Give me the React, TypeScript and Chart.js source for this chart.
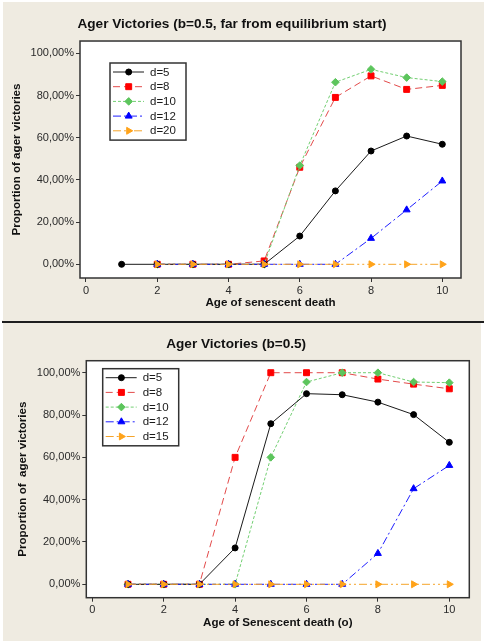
import React, { useEffect, useRef } from 'react';
import { Chart, registerables } from 'chart.js';
import { drawPoint } from 'chart.js/helpers';

Chart.register(...registerables);

// ---------- data ----------
const ageValues = [1, 2, 3, 4, 5, 6, 7, 8, 9, 10];
const xTickValues = [0, 2, 4, 6, 8, 10];
const yTickValues = [0, 20, 40, 60, 80, 100];

const topTitle = 'Ager Victories (b=0.5, far from equilibrium start)';
const topXTitle = 'Age of senescent death';
const topYTitle = 'Proportion of ager victories';
const topLabels = ['d=5', 'd=8', 'd=10', 'd=12', 'd=20'];
const topD5 = [0, 0, 0, 0, 0, 13.4, 34.8, 53.7, 60.8, 56.9];
const topD8 = [null, 0, 0, 0, 1.6, 46.0, 79.1, 89.3, 82.9, 84.8];
const topD10 = [null, 0, 0, 0, 0, 46.8, 86.3, 92.4, 88.5, 86.6];
const topD12 = [null, 0, 0, 0, 0, 0, 0, 12.3, 25.8, 39.5];
const topD20 = [null, 0, 0, 0, 0, 0, 0, 0, 0, 0];

const botTitle = 'Ager Victories (b=0.5)';
const botXTitle = 'Age of Senescent death (o)';
const botYTitle = 'Proportion of  ager victories';
const botLabels = ['d=5', 'd=8', 'd=10', 'd=12', 'd=15'];
const botD5 = [0, 0, 0, 17.2, 75.9, 90.1, 89.6, 86.1, 80.2, 67.1];
const botD8 = [0, 0, 0, 60, 100, 100, 100, 97.0, 94.6, 92.4];
const botD10 = [0, 0, 0, 0, 60, 95.6, 100, 100, 95.6, 95.3];
const botD12 = [0, 0, 0, 0, 0, 0, 0, 14.6, 45.2, 56.2];
const botD15 = [0, 0, 0, 0, 0, 0, 0, 0, 0, 0];

// ---------- styles ----------
const FONT = "'Liberation Sans', Arial, sans-serif";
const BEIGE = '#efebe1';

const seriesStyles = [
  { line: '#1a1a1a', point: '#000000', dash: [], pointStyle: 'circle', radius: 3, rotation: 0, order: 2 },
  { line: '#e34a4a', point: '#ff0000', dash: [7, 4], pointStyle: 'rect', radius: 4.2, rotation: 0, order: 4 },
  { line: '#72cf72', point: '#5cc55c', dash: [3, 2], pointStyle: 'rectRot', radius: 3.8, rotation: 0, order: 3 },
  { line: '#1f1fff', point: '#0000ff', dash: [8, 3, 2, 3], pointStyle: 'triangle', radius: 4, rotation: 0, order: 1 },
  { line: '#f5a42a', point: '#ffa31a', dash: [8, 3, 2, 3, 2, 3], pointStyle: 'triangle', radius: 4, rotation: 90, order: 0 },
];

type PanelCfg = {
  title: string;
  xTitle: string;
  yTitle: string;
  labels: string[];
  series: (number | null)[][];
  W: number;
  H: number;
  area: { left: number; right: number; top: number; bottom: number };
  xRange: [number, number];
  yRange: [number, number];
  titlePad: { top: number; bottom: number };
  yTitlePad: number;
  xTitlePad: number;
  legend: { x: number; y: number };
};

const panels: { pos: { left: number; top: number }; cfg: PanelCfg }[] = [
  {
    pos: { left: 3, top: 2 },
    cfg: {
      title: topTitle,
      xTitle: topXTitle,
      yTitle: topYTitle,
      labels: topLabels,
      series: [topD5, topD8, topD10, topD12, topD20],
      W: 481,
      H: 318,
      area: { left: 77, right: 458, top: 39, bottom: 276 },
      xRange: [-0.168, 10.525],
      yRange: [-6.49, 105.83],
      titlePad: { top: 14.5, bottom: 8.2 },
      yTitlePad: 6.7,
      xTitlePad: 10,
      legend: { x: 107, y: 61 },
    },
  },
  {
    pos: { left: 3, top: 323 },
    cfg: {
      title: botTitle,
      xTitle: botXTitle,
      yTitle: botYTitle,
      labels: botLabels,
      series: [botD5, botD8, botD10, botD12, botD15],
      W: 478,
      H: 318,
      area: { left: 83.3, right: 466.3, top: 37.7, bottom: 274.7 },
      xRange: [-0.168, 10.56],
      yRange: [-6.33, 105.67],
      titlePad: { top: 13.5, bottom: 7.9 },
      yTitlePad: 12.7,
      xTitlePad: 11.7,
      legend: { x: 99.7, y: 45.7 },
    },
  },
];

const framePlugin = {
  id: 'frame',
  beforeDraw(chart: any) {
    const { ctx, chartArea: a } = chart;
    ctx.save();
    ctx.fillStyle = BEIGE;
    ctx.fillRect(0, 0, chart.width, chart.height);
    ctx.fillStyle = '#ffffff';
    ctx.fillRect(a.left, a.top, a.right - a.left, a.bottom - a.top);
    ctx.restore();
  },
  afterDraw(chart: any) {
    const { ctx, chartArea: a } = chart;
    ctx.save();
    ctx.strokeStyle = '#333333';
    ctx.lineWidth = 1.5;
    ctx.strokeRect(a.left, a.top, a.right - a.left, a.bottom - a.top);
    ctx.restore();
  },
};

const boxLegendPlugin = {
  id: 'boxLegend',
  afterDraw(chart: any, _args: any, opts: any) {
    const { ctx } = chart;
    const bx = opts.x;
    const by = opts.y;
    const n = chart.data.datasets.length;
    const rowH = 14.7;
    const w = 76;
    const h = 18.3 + rowH * (n - 1);
    ctx.save();
    ctx.fillStyle = '#ffffff';
    ctx.fillRect(bx, by, w, h);
    ctx.strokeStyle = '#333333';
    ctx.lineWidth = 1.5;
    ctx.strokeRect(bx, by, w, h);
    chart.data.datasets.forEach((ds: any, i: number) => {
      const y = by + 9 + i * rowH;
      ctx.strokeStyle = ds.borderColor;
      ctx.lineWidth = 1;
      ctx.setLineDash(ds.borderDash || []);
      ctx.beginPath();
      ctx.moveTo(bx + 3, y);
      ctx.lineTo(bx + 34, y);
      ctx.stroke();
      ctx.setLineDash([]);
      ctx.fillStyle = ds.pointBackgroundColor;
      ctx.strokeStyle = ds.pointBorderColor;
      drawPoint(ctx, { pointStyle: ds.pointStyle, rotation: ds.pointRotation, radius: ds.pointRadius, borderWidth: 1 }, bx + 18.7, y);
      ctx.fillStyle = '#1a1a1a';
      ctx.font = `11.5px ${FONT}`;
      ctx.textAlign = 'left';
      ctx.textBaseline = 'middle';
      ctx.fillText(ds.label, bx + 40, y + 0.5);
    });
    ctx.restore();
  },
};

function buildConfig(cfg: PanelCfg): any {
  const datasets = cfg.series.map((vals, i) => {
    const s = seriesStyles[i];
    return {
      label: cfg.labels[i],
      data: ageValues
        .map((x, j) => ({ x, y: vals[j] }))
        .filter((p) => p.y !== null),
      borderColor: s.line,
      borderWidth: 1,
      borderDash: s.dash,
      pointStyle: s.pointStyle,
      pointRadius: s.radius,
      pointRotation: s.rotation,
      pointBackgroundColor: s.point,
      pointBorderColor: s.point,
      pointBorderWidth: 1,
      fill: false,
      tension: 0,
      order: s.order,
    };
  });
  const tickFont = { family: FONT, size: 11 };
  const axisTitleFont = { family: FONT, size: 11.6, weight: 'bold' as const };
  return {
    type: 'line',
    data: { datasets },
    plugins: [framePlugin, boxLegendPlugin],
    options: {
      responsive: false,
      animation: false,
      events: [],
      layout: { padding: { left: 0, top: 0, right: cfg.W - cfg.area.right, bottom: 0 } },
      plugins: {
        legend: { display: false },
        tooltip: { enabled: false },
        title: {
          display: true,
          text: cfg.title,
          color: '#111111',
          font: { family: FONT, size: 13.6, weight: 'bold', lineHeight: 1.2 },
          padding: cfg.titlePad,
        },
        boxLegend: cfg.legend,
      },
      scales: {
        x: {
          type: 'linear',
          min: cfg.xRange[0],
          max: cfg.xRange[1],
          afterBuildTicks: (scale: any) => {
            scale.ticks = xTickValues.map((v) => ({ value: v }));
          },
          afterFit: (scale: any) => {
            scale.height = cfg.H - cfg.area.bottom;
          },
          grid: { display: true, drawOnChartArea: false, drawTicks: true, tickLength: 4, color: '#333333', lineWidth: 1 },
          border: { display: false },
          ticks: { font: tickFont, color: '#2a2a2a', padding: 2, maxRotation: 0, autoSkip: false, callback: (v: number) => String(v) },
          title: { display: true, text: cfg.xTitle, color: '#111111', font: axisTitleFont, padding: { top: 0, bottom: cfg.xTitlePad } },
        },
        y: {
          type: 'linear',
          min: cfg.yRange[0],
          max: cfg.yRange[1],
          afterBuildTicks: (scale: any) => {
            scale.ticks = yTickValues.map((v) => ({ value: v }));
          },
          afterFit: (scale: any) => {
            scale.width = cfg.area.left;
          },
          grid: { display: true, drawOnChartArea: false, drawTicks: true, tickLength: 4, color: '#333333', lineWidth: 1 },
          border: { display: false },
          ticks: {
            font: tickFont,
            color: '#2a2a2a',
            padding: 2,
            autoSkip: false,
            callback: (v: number) => v.toFixed(2).replace('.', ',') + '%',
          },
          title: { display: true, text: cfg.yTitle, color: '#111111', font: axisTitleFont, padding: { top: cfg.yTitlePad, bottom: 0 } },
        },
      },
    },
  };
}

function ChartPanel({ cfg, pos }: { cfg: PanelCfg; pos: { left: number; top: number } }) {
  const ref = useRef<HTMLCanvasElement>(null);
  useEffect(() => {
    const chart = new Chart(ref.current as HTMLCanvasElement, buildConfig(cfg));
    return () => chart.destroy();
  }, []);
  return (
    <div style={{ position: 'absolute', left: pos.left, top: pos.top, width: cfg.W, height: cfg.H }}>
      <canvas ref={ref} width={cfg.W} height={cfg.H} style={{ display: 'block', width: cfg.W, height: cfg.H }} />
    </div>
  );
}

export default function App() {
  useEffect(() => {
    document.body.style.margin = '0';
  }, []);
  return (
    <div style={{ position: 'absolute', left: 0, top: 0, width: 484, height: 644, background: '#ffffff', overflow: 'hidden' }}>
      <ChartPanel cfg={panels[0].cfg} pos={panels[0].pos} />
      <div style={{ position: 'absolute', left: 2, top: 320, width: 482, height: 3, background: BEIGE }} />
      <div style={{ position: 'absolute', left: 2, top: 320.5, width: 482, height: 2, background: '#1e1e1e' }} />
      <ChartPanel cfg={panels[1].cfg} pos={panels[1].pos} />
    </div>
  );
}
